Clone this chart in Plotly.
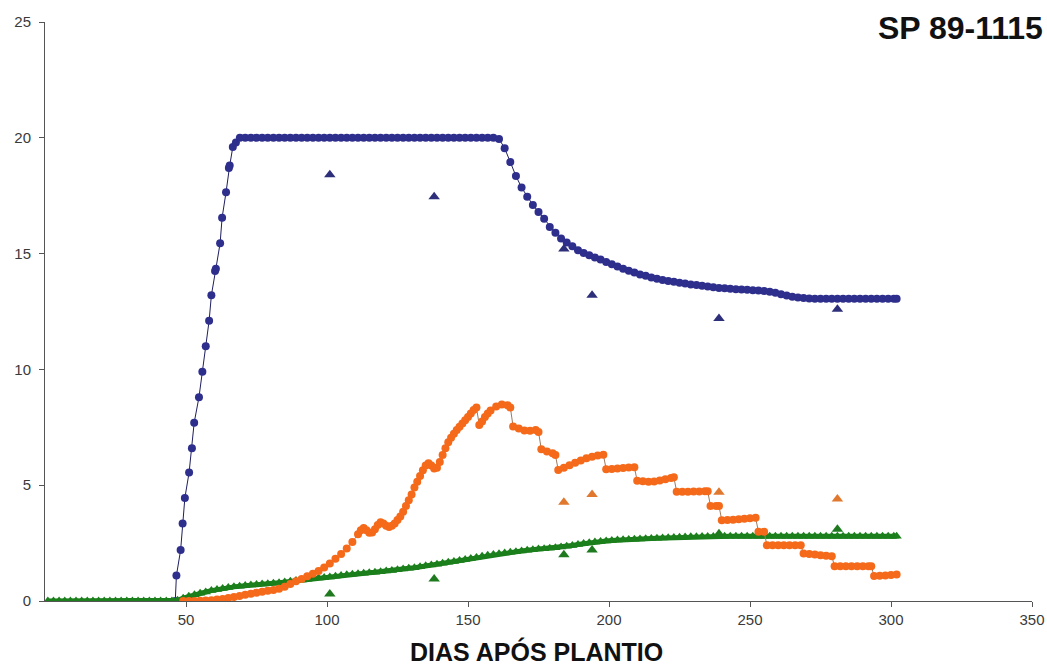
import plotly.graph_objects as go

# ---------------- data ----------------
# Blue series (simulated) - rise, plateau, decline
blue_rise_days = [46.2, 46.6, 48.1, 48.8, 49.6, 51.1, 52.1, 52.9, 54.6, 55.8, 57.0, 58.2,
                  59.0, 60.3, 60.6, 62.1, 62.8, 64.2, 65.2, 65.5, 66.6, 67.7, 69.1]
blue_rise_vals = [0, 1.1, 2.2, 3.35, 4.45, 5.55, 6.6, 7.7, 8.8, 9.9, 11.0, 12.1,
                  13.2, 14.25, 14.35, 15.45, 16.55, 17.65, 18.7, 18.8, 19.6, 19.8, 20.0]
blue_rest_days = list(range(71, 302, 2)) + [302]
blue_rest_vals = [
    20, 20, 20, 20, 20, 20, 20, 20, 20, 20, 20, 20, 20, 20, 20,
    20, 20, 20, 20, 20, 20, 20, 20, 20, 20, 20, 20, 20, 20, 20,
    20, 20, 20, 20, 20, 20, 20, 20, 20, 20, 20, 20, 20, 20, 20,
    19.95, 19.55, 18.95, 18.35, 17.85, 17.45, 17.1, 16.8, 16.5, 16.15,
    15.9, 15.65, 15.48, 15.32, 15.15, 15.03, 14.93, 14.83, 14.74, 14.64,
    14.54, 14.44, 14.35, 14.26, 14.18, 14.1, 14.04, 13.97, 13.91, 13.86,
    13.82, 13.78, 13.74, 13.71, 13.67, 13.64, 13.61, 13.58, 13.55, 13.52,
    13.5, 13.48, 13.46, 13.45, 13.44, 13.42, 13.41, 13.39, 13.35, 13.31,
    13.24, 13.19, 13.14, 13.1, 13.08, 13.06,
    13.05, 13.05, 13.05, 13.05, 13.05, 13.05, 13.05, 13.05, 13.05, 13.05,
    13.05, 13.05, 13.05, 13.05, 13.05,
    13.05]
blue_days = blue_rise_days + blue_rest_days
blue_vals = blue_rise_vals + blue_rest_vals

# Green series (simulated)
green_days = list(range(1, 302, 2)) + [302]
green_vals = [
    0, 0, 0, 0, 0, 0, 0, 0, 0, 0, 0, 0, 0, 0, 0, 0, 0, 0, 0, 0, 0, 0, 0,
    0.03, 0.12, 0.2, 0.27, 0.33, 0.39, 0.45, 0.5, 0.54, 0.58,
    0.61, 0.64, 0.67, 0.69, 0.71, 0.73, 0.75, 0.77, 0.79, 0.82,
    0.85, 0.88, 0.91, 0.94, 0.97, 0.99, 1.02, 1.04, 1.07, 1.1,
    1.13, 1.16, 1.18, 1.2, 1.22, 1.24, 1.26, 1.29, 1.32, 1.35,
    1.38, 1.41, 1.44, 1.48, 1.52, 1.55, 1.59, 1.63, 1.67, 1.71,
    1.75, 1.79, 1.84, 1.88, 1.93, 1.97, 2.01, 2.04, 2.07, 2.1,
    2.13, 2.16, 2.19, 2.21, 2.24, 2.26, 2.28, 2.3, 2.33, 2.36,
    2.4, 2.44, 2.48, 2.52, 2.55, 2.57, 2.59, 2.61, 2.63, 2.64,
    2.66, 2.67, 2.68, 2.69, 2.7, 2.71, 2.72, 2.73, 2.74, 2.75,
    2.76, 2.77, 2.77, 2.78, 2.79, 2.79, 2.8,
    2.8, 2.8, 2.8, 2.8, 2.8, 2.8, 2.8, 2.8, 2.8, 2.8,
    2.8, 2.8, 2.8, 2.8, 2.8, 2.8, 2.8, 2.8, 2.8, 2.8,
    2.8, 2.8, 2.8, 2.8, 2.8, 2.8, 2.8, 2.8, 2.8, 2.8, 2.8,
    2.8]

# Orange series (simulated)
orange_days = [
    49, 51, 53, 55, 57, 59, 61, 63, 65, 67, 69, 71, 73, 75, 77, 79, 81, 83, 85, 87,
    89, 91, 93, 95, 97, 99, 101, 103, 105, 107, 109, 111,
    112, 113, 114, 115, 116, 117, 118, 119, 120, 121, 122, 123, 124, 125, 126, 127,
    128, 129, 130, 131, 132, 133, 134, 135, 136, 137, 138, 139, 140, 141, 142, 143,
    144, 145, 146, 147, 148, 149, 150, 151, 152, 153,
    154, 155, 156, 157, 158, 160, 162, 164, 165,
    166, 168, 170, 172, 174, 175,
    176, 178, 180, 181,
    182, 184, 186, 188, 190, 192, 194, 196, 198,
    199, 201, 203, 205, 207, 209,
    210, 212, 214, 216, 218, 220, 222, 223,
    224, 226, 228, 230, 232, 234, 235,
    236, 238, 239,
    240, 242, 244, 246, 248, 250, 252,
    253, 255,
    256, 258, 260, 262, 264, 266, 268,
    269, 271, 273, 275, 277, 279,
    280, 282, 284, 286, 288, 290, 292, 293,
    294, 296, 298, 300, 302]
orange_vals = [
    0, 0, 0, 0.01, 0.02, 0.03, 0.06, 0.09, 0.13, 0.17, 0.22, 0.27, 0.31, 0.36, 0.4, 0.44,
    0.48, 0.53, 0.62, 0.73, 0.85, 0.95, 1.07, 1.18, 1.3, 1.45, 1.62, 1.82, 2.03, 2.27,
    2.55, 2.88,
    3.05, 3.15, 3.05, 2.95, 2.96, 3.1, 3.28, 3.4, 3.35, 3.25, 3.2, 3.25, 3.35, 3.5, 3.65, 3.85,
    4.1, 4.35, 4.6, 4.9, 5.15, 5.4, 5.65, 5.85, 5.95, 5.85, 5.72, 5.75, 6.0, 6.3, 6.6, 6.85,
    7.05, 7.22, 7.38, 7.52, 7.66, 7.8, 7.95, 8.1, 8.25, 8.35,
    7.6, 7.75, 7.95, 8.1, 8.22, 8.4, 8.48, 8.45, 8.36,
    7.53, 7.45, 7.36, 7.35, 7.38, 7.3,
    6.55, 6.45, 6.38, 6.3,
    5.66, 5.75, 5.86, 5.97, 6.07, 6.16, 6.23, 6.28, 6.31,
    5.69, 5.7, 5.72, 5.74, 5.76, 5.77,
    5.19, 5.17, 5.15, 5.16, 5.2, 5.26, 5.31, 5.34,
    4.72, 4.72, 4.72, 4.73, 4.73, 4.74, 4.74,
    4.1, 4.1, 4.1,
    3.49, 3.5, 3.51, 3.53, 3.55, 3.57, 3.59,
    2.99, 2.99,
    2.41, 2.41, 2.41, 2.41, 2.41, 2.41, 2.41,
    2.05, 2.03, 2.01, 1.98, 1.95, 1.93,
    1.5, 1.5, 1.5, 1.5, 1.5, 1.5, 1.5, 1.5,
    1.08, 1.09, 1.1, 1.12, 1.14]

# Observed values (triangles)
obs_days = [101, 138, 184, 194, 239, 281]
blue_obs = [18.4, 17.45, 15.2, 13.2, 12.2, 12.6]
green_obs = [0.3, 0.95, 2.0, 2.2, 2.9, 3.1]
orange_obs_days = [184, 194, 239, 281]
orange_obs = [4.26, 4.6, 4.7, 4.4]

x_ticks = [50, 100, 150, 200, 250, 300, 350]
y_ticks = [0, 5, 10, 15, 20, 25]
title_text = "SP 89-1115"
x_title = "DIAS APÓS PLANTIO"

# ---------------- figure ----------------
BLUE = "#2E2F8C"
ORANGE = "#F56A1A"
GREEN = "#1B7F1B"
FONT = "Arial, Liberation Sans, sans-serif"

fig = go.Figure()
fig.add_trace(go.Scatter(x=blue_days, y=blue_vals, mode="lines+markers",
                         line=dict(color="#1E1F5E", width=1),
                         marker=dict(color=BLUE, size=8, symbol="circle"),
                         hoverinfo="skip"))
fig.add_trace(go.Scatter(x=green_days, y=green_vals, mode="lines+markers",
                         line=dict(color=GREEN, width=5),
                         marker=dict(color=GREEN, size=9, symbol="triangle-up"),
                         hoverinfo="skip"))
fig.add_trace(go.Scatter(x=orange_days, y=orange_vals, mode="lines+markers",
                         line=dict(color="#9C7A5C", width=1),
                         marker=dict(color=ORANGE, size=8, symbol="circle"),
                         hoverinfo="skip"))
fig.add_trace(go.Scatter(x=obs_days, y=blue_obs, mode="markers",
                         marker=dict(color="#2E2F7A", size=10, symbol="triangle-up"),
                         hoverinfo="skip"))
fig.add_trace(go.Scatter(x=orange_obs_days, y=orange_obs, mode="markers",
                         marker=dict(color="#E0782E", size=10, symbol="triangle-up"),
                         hoverinfo="skip"))
fig.add_trace(go.Scatter(x=obs_days, y=green_obs, mode="markers",
                         marker=dict(color="#1F7A1F", size=10, symbol="triangle-up"),
                         hoverinfo="skip"))

fig.update_layout(
    width=1047, height=667,
    margin=dict(l=45, r=15, t=22, b=66),
    paper_bgcolor="white", plot_bgcolor="white",
    showlegend=False, hovermode=False,
    font=dict(family=FONT, color="#333333"),
    xaxis=dict(range=[0, 350], tickvals=x_ticks, ticks="outside", ticklen=5,
               tickcolor="#555555", showline=True, linecolor="#555555", linewidth=1,
               showgrid=False, zeroline=False, automargin=False,
               tickfont=dict(size=15, color="#3a3a3a")),
    yaxis=dict(range=[0, 25], tickvals=y_ticks, ticks="outside", ticklen=5,
               tickcolor="#555555", showline=True, linecolor="#555555", linewidth=1,
               showgrid=False, zeroline=False, automargin=False,
               tickfont=dict(size=15, color="#3a3a3a"), ticklabelstandoff=5),
    annotations=[
        dict(text="<b>" + title_text + "</b>", xref="paper", yref="paper",
             x=1, y=1, xanchor="right", yanchor="top", xshift=13, yshift=14,
             showarrow=False, font=dict(family=FONT, size=32, color="#111111")),
        dict(text="<b>" + x_title + "</b>", xref="paper", yref="paper",
             x=0.4975, y=0, xanchor="center", yanchor="bottom", yshift=-66,
             borderpad=0,
             showarrow=False, font=dict(family=FONT, size=25, color="#111111")),
    ],
)

fig.write_html("out.html",
               config={"displayModeBar": False, "staticPlot": True},
               post_script="document.body.style.margin='0';document.body.style.overflow='hidden';")
